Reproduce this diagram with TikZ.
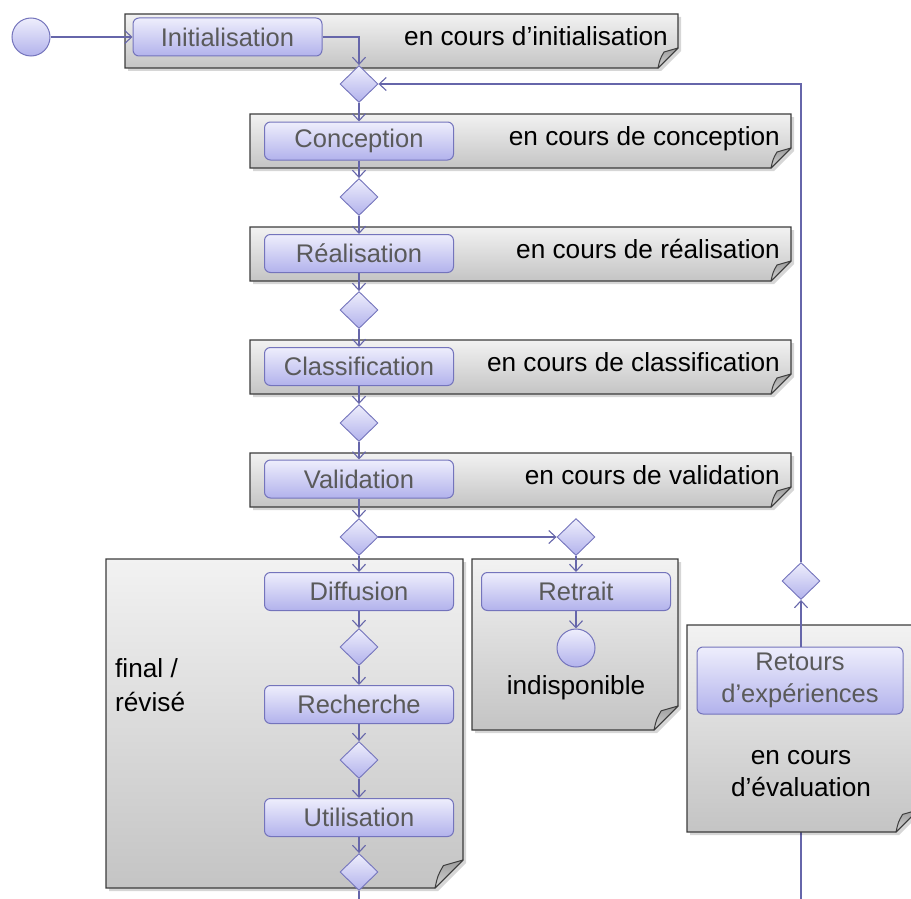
\documentclass[tikz,border=0pt]{standalone}
\usepackage{fontspec}
\setmainfont{Liberation Sans}
\usetikzlibrary{arrows.meta,shapes.geometric,calc}
\definecolor{connc}{HTML}{6666AA}
\definecolor{actbd}{HTML}{7474BC}
\definecolor{acttop}{HTML}{EEEEFC}
\definecolor{actbot}{HTML}{B2B2EC}
\definecolor{lanebd}{HTML}{3C3C3C}
\definecolor{lanetop}{HTML}{F2F2F2}
\definecolor{lanebot}{HTML}{C4C4C4}
\definecolor{foldtop}{HTML}{9C9C9C}
\definecolor{foldbot}{HTML}{D4D4D4}
\definecolor{acttext}{HTML}{5A5A5A}
\newcommand{\lanebox}[5]{%
  \fill[black,opacity=0.16] (#1+3,#2+3) -- (#3+3,#2+3) -- (#3+3,#4-#5+3) -- (#3-#5+3,#4+3) -- (#1+3,#4+3) -- cycle;
  \path[lanestyle] (#1,#2) -- (#3,#2) -- (#3,#4-#5) -- (#3-#5,#4) -- (#1,#4) -- cycle;
  \path[foldstyle] (#3,#4-#5) -- (#3-#5,#4) .. controls (#3-0.9*#5,#4-0.45*#5) .. (#3-0.7*#5,#4-0.8*#5) -- cycle;
}
\begin{document}
\begin{tikzpicture}[x=1pt,y=-1pt,
  every node/.style={font=\fontsize{25.5}{29}\selectfont},
  lanestyle/.style={draw=lanebd,line width=1.2pt,top color=lanetop,bottom color=lanebot},
  foldstyle/.style={draw=lanebd,line width=1pt,line join=round,top color=foldtop,bottom color=foldbot},
  act/.style={draw=actbd,line width=1pt,rounded corners=6pt,top color=acttop,bottom color=actbot,
    minimum width=189pt,minimum height=38pt,inner sep=0pt,text=acttext,align=center},
  dia/.style={diamond,draw=actbd,line width=0.9pt,top color=acttop,bottom color=actbot,
    minimum width=38pt,minimum height=37pt,inner sep=0pt},
  initc/.style={circle,draw=actbd,line width=1pt,top color=acttop,bottom color=actbot,
    minimum size=38pt,inner sep=0pt},
  lbl/.style={text=black,inner sep=0pt,font=\fontsize{26.2}{30}\selectfont},
  conn/.style={draw=connc,line width=1.1pt,-{Straight Barb[length=7pt,width=13pt]}},
  plain/.style={draw=connc,line width=1.1pt}
]
\useasboundingbox (0,0) rectangle (911,899);

% free ends
\coordinate (b1) at (359,899);
\coordinate (b2) at (801,899);
\coordinate (rb) at (801,832);
\draw[plain] (b2) -- (rb);

% lanes
\lanebox{125}{14}{678}{68}{20}
\lanebox{250}{114}{791}{168}{20}
\lanebox{250}{227}{791}{281}{20}
\lanebox{250}{340}{791}{394}{20}
\lanebox{250}{453}{791}{507}{20}
\lanebox{106}{559}{463}{888}{28}
\lanebox{472}{559}{678}{730}{24}
\lanebox{687}{625}{918}{832}{22}

% lane labels
\node[lbl,anchor=base east] (tinit) at (668,46) {en cours d’initialisation};
\node[lbl,anchor=base east] (tconc) at (780,145) {en cours de conception};
\node[lbl,anchor=base east] (treal) at (780,258) {en cours de réalisation};
\node[lbl,anchor=base east] (tclass) at (780,371) {en cours de classification};
\node[lbl,anchor=base east] (tvalid) at (780,484) {en cours de validation};
\node[lbl,anchor=north west,align=left,font=\fontsize{26.2}{34}\selectfont] (tfinal) at (115,658) {final /\\révisé};
\node[lbl] (tindisp) at (576,688) {indisponible};
\node[lbl,align=center,font=\fontsize{26.2}{32}\selectfont] (teval) at (801,774) {en cours\\d’évaluation};

% nodes
\node[initc] (start) at (31,37) {};
\node[act] (init) at (227.5,37) {Initialisation};
\node[dia] (d0) at (359,84) {};
\node[act] (conc) at (359,141) {Conception};
\node[dia] (d1) at (359,197) {};
\node[act] (real) at (359,253.5) {Réalisation};
\node[dia] (d2) at (359,310) {};
\node[act] (class) at (359,366.5) {Classification};
\node[dia] (d3) at (359,423) {};
\node[act] (valid) at (359,479) {Validation};
\node[dia] (d4) at (359,537) {};
\node[dia] (d5) at (576,537) {};
\node[act] (diff) at (359,591.5) {Diffusion};
\node[dia] (d6) at (359,647) {};
\node[act] (rech) at (359,704.5) {Recherche};
\node[dia] (d7) at (359,760) {};
\node[act] (util) at (359,817.5) {Utilisation};
\node[dia] (d8) at (359,872) {};
\node[act] (retrait) at (576,591.5) {Retrait};
\node[initc] (endc) at (576,648) {};
\node[act,minimum width=206pt,minimum height=67pt,font=\fontsize{25.5}{32}\selectfont] (retours) at (800,680.5) {Retours\\d’expériences};
\node[dia] (d9) at (801,581) {};

% connectors
\draw[conn] (start) -- (init);
\draw[conn] (init.east) -| (d0.north);
\draw[conn] (d0) -- (conc);
\draw[conn] (conc) -- (d1);
\draw[conn] (d1) -- (real);
\draw[conn] (real) -- (d2);
\draw[conn] (d2) -- (class);
\draw[conn] (class) -- (d3);
\draw[conn] (d3) -- (valid);
\draw[conn] (valid) -- (d4);
\draw[conn] (d4) -- (d5);
\draw[conn] (d4) -- (diff);
\draw[conn] (diff) -- (d6);
\draw[conn] (d6) -- (rech);
\draw[conn] (rech) -- (d7);
\draw[conn] (d7) -- (util);
\draw[conn] (util) -- (d8);
\draw[plain] (d8) -- (b1);
\draw[conn] (d5) -- (retrait);
\draw[conn] (retrait) -- (endc);
\draw[conn] (retours.north -| d9) -- (d9);
\draw[conn] (d9.north) |- (d0.east);
\end{tikzpicture}
\end{document}
